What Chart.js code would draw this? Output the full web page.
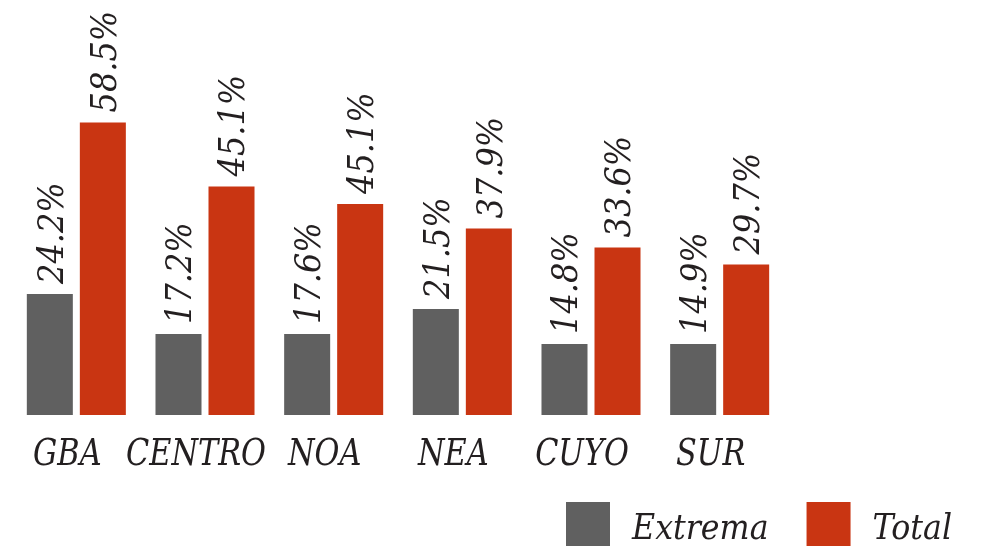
<!DOCTYPE html>
<html>
<head>
<meta charset="utf-8">
<script src="https://cdn.jsdelivr.net/npm/chart.js@4/dist/chart.umd.min.js"></script>
<style>
html,body{margin:0;padding:0;background:#fff;}
#wrap{width:983px;height:547px;position:relative;}
</style>
</head>
<body>
<div id="wrap"><canvas id="c" width="983" height="547"></canvas></div>
<script>
const categories = ["GBA", "CENTRO", "NOA", "NEA", "CUYO", "SUR"];
const seriesNames = ["Extrema", "Total"];
// bar heights as drawn in the picture
const extremaValues = [24.2, 16.2, 16.2, 21.2, 14.2, 14.2];
const totalValues = [58.5, 45.7, 42.2, 37.3, 33.5, 30.1];
// labels as printed above the bars
const extremaLabels = ["24.2%", "17.2%", "17.6%", "21.5%", "14.8%", "14.9%"];
const totalLabels = ["58.5%", "45.1%", "45.1%", "37.9%", "33.6%", "29.7%"];

const FONT_FAMILY = "'DejaVu Serif', serif";
const TEXT_COLOR = "#231f20";
const GREY = "#606060";
const RED = "#c93512";

const textPlugin = {
  id: 'textPlugin',
  afterDatasetsDraw(chart) {
    const ctx = chart.ctx;
    const allLabels = [extremaLabels, totalLabels];
    // value labels, rotated
    let size = 36;
    ctx.save();
    ctx.font = "italic " + size + "px " + FONT_FAMILY;
    ctx.fillStyle = TEXT_COLOR;
    ctx.textAlign = 'left';
    ctx.textBaseline = 'alphabetic';
    chart.data.datasets.forEach((ds, di) => {
      const meta = chart.getDatasetMeta(di);
      meta.data.forEach((bar, i) => {
        ctx.save();
        ctx.translate(bar.x, bar.y - 10);
        ctx.rotate(-Math.PI / 2);
        ctx.scale(0.89, 1);
        ctx.fillText(allLabels[di][i], 0, size * 0.36);
        ctx.restore();
      });
    });
    // category labels
    const xs = chart.scales.x;
    size = 37;
    ctx.font = "italic " + size + "px " + FONT_FAMILY;
    ctx.textAlign = 'center';
    categories.forEach((c, i) => {
      const px = xs.getPixelForValue(i);
      ctx.save();
      ctx.translate(px - 9, 465);
      ctx.scale(0.82, 1);
      ctx.fillText(c, 0, 0);
      ctx.restore();
    });
    // legend
    size = 36;
    ctx.font = "italic " + size + "px " + FONT_FAMILY;
    ctx.textAlign = 'left';
    const boxTop = 502, boxSize = 44, sx = 0.88;
    let x = 566;
    chart.data.datasets.forEach((ds, di) => {
      ctx.fillStyle = ds.backgroundColor;
      ctx.fillRect(x, boxTop, boxSize, boxSize);
      ctx.fillStyle = TEXT_COLOR;
      const tx = x + boxSize + 22;
      ctx.save();
      ctx.translate(tx, 539);
      ctx.scale(sx, 1);
      ctx.fillText(ds.label, 0, 0);
      const w = ctx.measureText(ds.label).width * sx;
      ctx.restore();
      x = tx + w + 38;
    });
    ctx.restore();
  }
};

new Chart(document.getElementById('c'), {
  type: 'bar',
  data: {
    labels: categories,
    datasets: [
      { label: seriesNames[0], data: extremaValues, backgroundColor: GREY, borderWidth: 0 },
      { label: seriesNames[1], data: totalValues, backgroundColor: RED, borderWidth: 0 }
    ]
  },
  options: {
    responsive: false,
    animation: false,
    devicePixelRatio: 1,
    barPercentage: 0.868,
    categoryPercentage: 0.824,
    layout: { padding: { left: 12, right: 0, top: 15, bottom: 0 } },
    plugins: {
      tooltip: { enabled: false },
      legend: { display: false }
    },
    scales: {
      x: {
        grid: { display: false, drawTicks: false },
        border: { display: false },
        ticks: { display: false },
        afterFit(scale) { scale.height = 132; }
      },
      y: {
        position: 'right',
        min: 0,
        max: 80,
        grid: { display: false, drawTicks: false },
        border: { display: false },
        ticks: { display: false },
        afterFit(scale) { scale.width = 199; }
      }
    }
  },
  plugins: [textPlugin]
});
</script>
</body>
</html>
